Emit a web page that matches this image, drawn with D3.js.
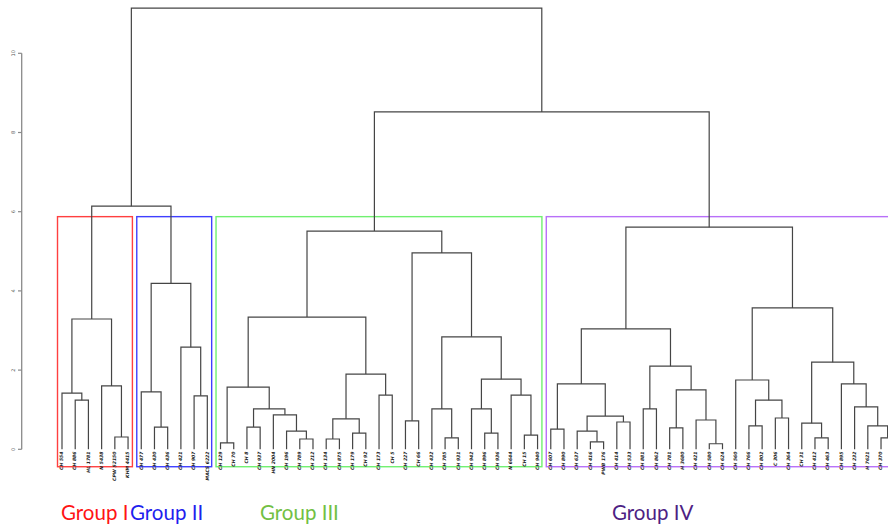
<!DOCTYPE html>
<html>
<head>
<meta charset="utf-8">
<script src="https://cdn.jsdelivr.net/npm/d3@7"></script>
<style>
  body { margin: 0; background: #fff; overflow: hidden; }
</style>
</head>
<body>
<script>
// leaf labels, left to right (the last one is cut off by the right edge)
const leafNames = [
  'CH 554', 'CH 886', 'HL 1781', 'N 5438', 'CPW 52150', 'KHM 4415',
  'CH 477', 'CH 430', 'CH 436', 'CH 421', 'CH 907', 'MACS 6222',
  'CH 129', 'CH 70', 'CH 8', 'CH 937', 'HN 2004', 'CH 196', 'CH 789', 'CH 212',
  'CH 134', 'CH 875', 'CH 179', 'CH 92', 'CH 173', 'CH 5', 'CH 227', 'CH 66',
  'CH 432', 'CH 785', 'CH 931', 'CH 942', 'CH 896', 'CH 936', 'N 6644', 'CH 15', 'CH 940',
  'CH 607', 'CH 890', 'CH 637', 'CH 416', 'PWB 176', 'CH 414', 'CH 533', 'CH 881',
  'CH 862', 'CH 781', 'H 3680', 'CH 421', 'CH 580', 'CH 624', 'CH 560', 'CH 766',
  'CH 802', 'C 306', 'CH 364', 'CH 31', 'CH 412', 'CH 463', 'CH 895', 'CH 232',
  'H 7621', 'CH 370', 'CH 388'
];

// hclust style merge table: negative = leaf (1-based), positive = earlier row (1-based)
const merges = [
  [-2, -3, 1.24], [-1, 1, 1.42], [-5, -6, 0.31], [-4, 3, 1.60], [2, 4, 3.29],
  [-8, -9, 0.56], [-7, 6, 1.45], [-11, -12, 1.35], [-10, 8, 2.58], [7, 9, 4.19],
  [5, 10, 6.14],
  [-13, -14, 0.16], [-15, -16, 0.56], [-19, -20, 0.26], [-18, 14, 0.46], [-17, 15, 0.87],
  [13, 16, 1.02], [12, 17, 1.57], [-21, -22, 0.26], [-23, -24, 0.41], [19, 20, 0.77],
  [-25, -26, 1.37], [21, 22, 1.90], [18, 23, 3.34], [-27, -28, 0.72], [-30, -31, 0.29],
  [-29, 26, 1.02], [-33, -34, 0.41], [-32, 28, 1.02], [-36, -37, 0.36], [-35, 30, 1.37],
  [29, 31, 1.77], [27, 32, 2.84], [25, 33, 4.96], [24, 34, 5.51],
  [-38, -39, 0.51], [-41, -42, 0.19], [-40, 37, 0.46], [-43, -44, 0.69], [38, 39, 0.84],
  [36, 40, 1.65], [-45, -46, 1.02], [-47, -48, 0.54], [-50, -51, 0.14], [-49, 44, 0.74],
  [43, 45, 1.50], [42, 46, 2.10], [41, 47, 3.04], [-53, -54, 0.59], [-55, -56, 0.79],
  [49, 50, 1.24], [-52, 51, 1.75], [-58, -59, 0.29], [-57, 53, 0.66], [-63, -64, 0.29],
  [-62, 55, 0.59], [-61, 56, 1.07], [-60, 57, 1.65], [54, 58, 2.20], [52, 59, 3.57],
  [48, 60, 5.61],
  [35, 61, 8.52],
  [11, 62, 11.14]
];

const yTicks = [0, 2, 4, 6, 8, 10];
const groupNames = ['Group I', 'Group II', 'Group III', 'Group IV'];

const width = 888;
const height = 529;
const boxColors = ['#ff4040', '#4040ff', '#70f070', '#b870f8'];
const textColors = ['#ff1414', '#1f1fee', '#72c043', '#4e1f84'];
const labelX = [61, 130, 260, 612];

function draw() {
  const svg = d3.select('body').append('svg')
      .attr('width', width)
      .attr('height', height);

  const step = 13.21;
  const x = d3.scaleLinear()
      .domain([0, leafNames.length - 1])
      .range([62, 62 + step * (leafNames.length - 1)]);
  const y = d3.scaleLinear()
      .domain([0, 10])
      .range([449.3, 53.3]);

  // lay out the merges
  const nodes = [];
  const getNode = id => id < 0
    ? {x: x(-id - 1), h: 0, lo: -id - 1, hi: -id - 1, leaf: true}
    : nodes[id - 1];
  merges.forEach(([a, b, h]) => {
    const na = getNode(a), nb = getNode(b);
    nodes.push({
      x: (na.x + nb.x) / 2, h, a: na, b: nb,
      lo: Math.min(na.lo, nb.lo), hi: Math.max(na.hi, nb.hi)
    });
  });

  // y axis
  const axis = svg.append('g').attr('class', 'axis');
  axis.append('line')
    .attr('x1', 21.7).attr('x2', 21.7)
    .attr('y1', y(0)).attr('y2', y(10))
    .attr('stroke', '#8a8a8a').attr('stroke-width', 1.3);
  axis.selectAll('line.tick')
    .data(yTicks)
    .join('line')
      .attr('class', 'tick')
      .attr('x1', 18).attr('x2', 21.7)
      .attr('y1', d => y(d)).attr('y2', d => y(d))
      .attr('stroke', '#8a8a8a').attr('stroke-width', 1.2);
  axis.selectAll('text')
    .data(yTicks)
    .join('text')
      .attr('transform', d => `translate(13.5,${y(d)}) rotate(-90)`)
      .attr('text-anchor', 'middle')
      .attr('dominant-baseline', 'middle')
      .attr('font-family', 'DejaVu Sans, sans-serif')
      .attr('font-size', 5)
      .attr('fill', '#555')
      .text(d => d);

  // group boxes (cut into 4 clusters)
  const k = groupNames.length;
  const sortedH = merges.map(m => m[2]).sort((p, q) => q - p);
  const cutH = (sortedH[k - 2] + sortedH[k - 1]) / 2;
  const clusters = [];
  (function walk(n) {
    if (n.leaf || n.h < cutH) { clusters.push(n); return; }
    walk(n.a); walk(n.b);
  })(nodes[nodes.length - 1]);

  svg.append('g')
    .selectAll('rect')
    .data(clusters)
    .join('rect')
      .attr('x', d => x(d.lo - 0.34))
      .attr('y', y(cutH))
      .attr('width', d => x(d.hi + 0.33) - x(d.lo - 0.34))
      .attr('height', y(-0.44) - y(cutH))
      .attr('fill', 'none')
      .attr('stroke', (d, i) => boxColors[i])
      .attr('stroke-width', 1.4);

  // dendrogram branches
  svg.append('g')
    .attr('fill', 'none')
    .attr('stroke', '#454545')
    .attr('stroke-width', 1.2)
  .selectAll('path')
  .data(nodes)
  .join('path')
    .attr('d', d => `M${d.a.x},${y(d.a.h)}V${y(d.h)}H${d.b.x}V${y(d.b.h)}`);

  // leaf labels (only those inside the picture)
  const shown = leafNames.map((name, i) => ({name, i})).filter(d => x(d.i) + 3 < width);
  svg.append('g')
    .selectAll('text')
    .data(shown)
    .join('text')
      .attr('transform', d => `translate(${x(d.i)},451.5) rotate(-90)`)
      .attr('text-anchor', 'end')
      .attr('dominant-baseline', 'middle')
      .attr('font-family', 'DejaVu Sans, sans-serif')
      .attr('font-size', 4.6)
      .attr('font-weight', 'bold')
      .attr('font-style', 'italic')
      .attr('fill', '#222')
      .text(d => d.name);

  // group titles
  svg.append('g')
    .selectAll('text')
    .data(groupNames)
    .join('text')
      .attr('x', (d, i) => labelX[i])
      .attr('y', 520)
      .attr('font-family', 'Lato, sans-serif')
      .attr('font-size', 20.5)
      .attr('fill', (d, i) => textColors[i])
      .text(d => d);
}

draw();
</script>
</body>
</html>
